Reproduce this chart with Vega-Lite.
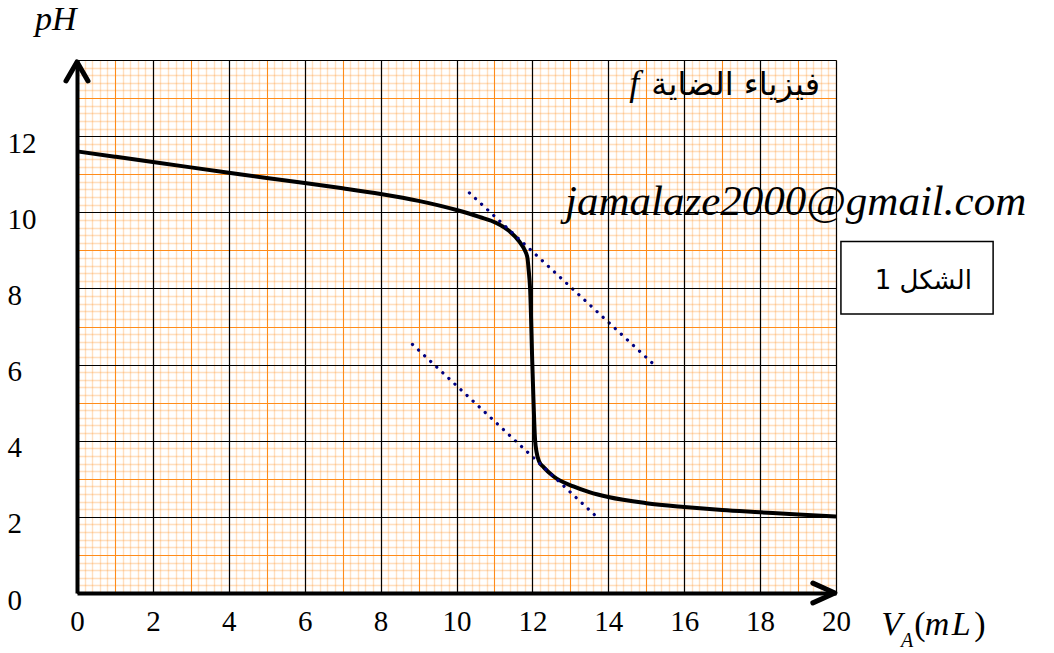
{
  "$schema": "https://vega.github.io/schema/vega-lite/v6.json",
  "width": 759,
  "height": 533,
  "autosize": {"type": "none"},
  "padding": {"left": 77, "top": 60, "right": 218, "bottom": 60},
  "background": "white",
  "config": {"view": {"stroke": null}},
  "datasets": {
    "curve": [
      {"v": 0, "ph": 11.6}, {"v": 1, "ph": 11.46}, {"v": 2, "ph": 11.32}, {"v": 3, "ph": 11.18},
      {"v": 4, "ph": 11.04}, {"v": 5, "ph": 10.9}, {"v": 6, "ph": 10.77}, {"v": 7, "ph": 10.63},
      {"v": 8, "ph": 10.48}, {"v": 9, "ph": 10.3}, {"v": 10, "ph": 10.06}, {"v": 10.6, "ph": 9.88},
      {"v": 11.05, "ph": 9.72}, {"v": 11.4, "ph": 9.5}, {"v": 11.65, "ph": 9.24}, {"v": 11.8, "ph": 9.0},
      {"v": 11.87, "ph": 8.8}, {"v": 11.9, "ph": 8.5}, {"v": 11.94, "ph": 7.98}, {"v": 12.0, "ph": 5.96},
      {"v": 12.07, "ph": 4.03}, {"v": 12.11, "ph": 3.7}, {"v": 12.18, "ph": 3.45}, {"v": 12.3, "ph": 3.3},
      {"v": 12.56, "ph": 3.06}, {"v": 13.08, "ph": 2.8}, {"v": 13.5, "ph": 2.65}, {"v": 14, "ph": 2.52},
      {"v": 15, "ph": 2.36}, {"v": 16, "ph": 2.26}, {"v": 17, "ph": 2.18}, {"v": 18, "ph": 2.12},
      {"v": 19, "ph": 2.06}, {"v": 20, "ph": 2.01}
    ],
    "tangents": [
      {"seg": "upper", "v": 10.34, "ph": 10.51}, {"seg": "upper", "v": 15.16, "ph": 6.04},
      {"seg": "lower", "v": 8.84, "ph": 6.53}, {"seg": "lower", "v": 13.63, "ph": 2.06}
    ]
  },
  "layer": [
    {
      "data": {"name": "curve"},
      "mark": {"type": "line", "interpolate": "monotone", "stroke": "black", "strokeWidth": 4},
      "encoding": {
        "x": {"field": "v", "type": "quantitative", "scale": {"domain": [0, 20], "nice": false, "zero": false},
          "axis": {"orient": "bottom", "tickCount": 100, "grid": true, "gridColor": "#ff8c1a",
            "gridOpacity": {"condition": {"test": "datum.value % 1 === 0", "value": 1}, "value": 0.28},
            "gridWidth": {"condition": {"test": "datum.value % 1 === 0", "value": 1.1}, "value": 1.4},
            "labels": false, "ticks": false, "domain": false, "title": null, "zindex": 0}},
        "y": {"field": "ph", "type": "quantitative", "scale": {"domain": [0, 14], "nice": false, "zero": false},
          "axis": {"orient": "left", "tickCount": 70, "grid": true, "gridColor": "#ff8c1a",
            "gridOpacity": {"condition": {"test": "datum.value % 1 === 0", "value": 1}, "value": 0.28},
            "gridWidth": {"condition": {"test": "datum.value % 1 === 0", "value": 1.1}, "value": 1.4},
            "labels": false, "ticks": false, "domain": false, "title": null, "zindex": 0}}
      }
    },
    {
      "data": {"name": "tangents"},
      "mark": {"type": "line", "stroke": "#000080", "strokeWidth": 3.2, "strokeCap": "round", "strokeDash": [0.1, 8.2]},
      "encoding": {
        "detail": {"field": "seg"},
        "x": {"field": "v", "type": "quantitative", "scale": {"domain": [0, 20], "nice": false, "zero": false},
          "axis": {"orient": "bottom", "values": [0, 2, 4, 6, 8, 10, 12, 14, 16, 18, 20], "grid": true, "gridColor": "black", "gridWidth": 1.2,
            "domain": true, "domainColor": "black", "domainWidth": 4, "ticks": false, "tickSize": 0,
            "labelFont": "Liberation Serif", "labelFontSize": 29, "labelColor": "black", "labelBaseline": "alphabetic",
            "labelPadding": 37, "labelFlush": false, "labelOverlap": false, "title": null, "zindex": 1}},
        "y": {"field": "ph", "type": "quantitative", "scale": {"domain": [0, 14], "nice": false, "zero": false},
          "axis": {"orient": "left", "values": [0, 2, 4, 6, 8, 10, 12, 14], "labelExpr": "datum.value == 14 ? '' : datum.label",
            "grid": true, "gridColor": "black", "gridWidth": 1.2,
            "domain": true, "domainColor": "black", "domainWidth": 4, "ticks": false, "tickSize": 0,
            "labelFont": "Liberation Serif", "labelFontSize": 29, "labelColor": "black", "labelAlign": "left", "labelBaseline": "alphabetic",
            "labelPadding": 70, "labelOffset": 16, "labelFlush": false, "labelOverlap": false, "title": null, "zindex": 1}}
      }
    },
    {
      "data": {"values": [{"v": 0, "ph": 13.95}]},
      "mark": {"type": "point", "shape": "M-0.55,0.95L0,0L0.55,0.95", "size": 1600, "filled": false, "stroke": "black", "strokeWidth": 5, "strokeJoin": "round", "strokeCap": "round", "opacity": 1},
      "encoding": {
        "x": {"field": "v", "type": "quantitative", "scale": {"domain": [0, 20], "nice": false, "zero": false}, "axis": null},
        "y": {"field": "ph", "type": "quantitative", "scale": {"domain": [0, 14], "nice": false, "zero": false}, "axis": null}
      }
    },
    {
      "data": {"values": [{"v": 19.97, "ph": 0}]},
      "mark": {"type": "point", "shape": "M-1,-0.45L0,0L-1,0.45", "size": 1936, "filled": false, "stroke": "black", "strokeWidth": 5, "strokeJoin": "round", "strokeCap": "round", "opacity": 1},
      "encoding": {
        "x": {"field": "v", "type": "quantitative", "scale": {"domain": [0, 20], "nice": false, "zero": false}, "axis": null},
        "y": {"field": "ph", "type": "quantitative", "scale": {"domain": [0, 14], "nice": false, "zero": false}, "axis": null}
      }
    },
    {
      "data": {"values": [{"x1": 20.13, "x2": 24.14, "y1": 9.23, "y2": 7.33}]},
      "mark": {"type": "rect", "fill": "white", "stroke": "black", "strokeWidth": 1.5},
      "encoding": {
        "x": {"field": "x1", "type": "quantitative", "scale": {"domain": [0, 20], "nice": false, "zero": false}, "axis": null},
        "x2": {"field": "x2"},
        "y": {"field": "y1", "type": "quantitative", "scale": {"domain": [0, 14], "nice": false, "zero": false}, "axis": null},
        "y2": {"field": "y2"}
      }
    },
    {
      "data": {"values": [{"x": 22.3, "y": 7.98, "t": "1 الشكل"}]},
      "mark": {"type": "text", "font": "DejaVu Sans", "fontSize": 26, "align": "center", "baseline": "alphabetic", "color": "black"},
      "encoding": {
        "x": {"field": "x", "type": "quantitative", "scale": {"domain": [0, 20], "nice": false, "zero": false}, "axis": null},
        "y": {"field": "y", "type": "quantitative", "scale": {"domain": [0, 14], "nice": false, "zero": false}, "axis": null},
        "text": {"field": "t"}
      }
    },
    {
      "data": {"values": [{"x": 19.58, "y": 13.08, "t": "فيزياء الضاية"}]},
      "mark": {"type": "text", "font": "DejaVu Sans", "fontSize": 32, "align": "right", "baseline": "alphabetic", "color": "black"},
      "encoding": {
        "x": {"field": "x", "type": "quantitative", "scale": {"domain": [0, 20], "nice": false, "zero": false}, "axis": null},
        "y": {"field": "y", "type": "quantitative", "scale": {"domain": [0, 14], "nice": false, "zero": false}, "axis": null},
        "text": {"field": "t"}
      }
    },
    {
      "data": {"values": [{"x": 14.55, "y": 13.08, "t": "f"}]},
      "mark": {"type": "text", "font": "Liberation Serif", "fontStyle": "italic", "fontSize": 36, "align": "left", "baseline": "alphabetic", "color": "black"},
      "encoding": {
        "x": {"field": "x", "type": "quantitative", "scale": {"domain": [0, 20], "nice": false, "zero": false}, "axis": null},
        "y": {"field": "y", "type": "quantitative", "scale": {"domain": [0, 14], "nice": false, "zero": false}, "axis": null},
        "text": {"field": "t"}
      }
    },
    {
      "data": {"values": [{"x": 12.86, "y": 9.92, "t": "jamalaze2000@gmail.com"}]},
      "mark": {"type": "text", "font": "Liberation Serif", "fontStyle": "italic", "fontSize": 43, "align": "left", "baseline": "alphabetic", "color": "black"},
      "encoding": {
        "x": {"field": "x", "type": "quantitative", "scale": {"domain": [0, 20], "nice": false, "zero": false}, "axis": null},
        "y": {"field": "y", "type": "quantitative", "scale": {"domain": [0, 14], "nice": false, "zero": false}, "axis": null},
        "text": {"field": "t"}
      }
    },
    {
      "data": {"values": [
        {"x": -1.107, "y": 14.79, "t": "pH"},
        {"x": 21.19, "y": -1.107, "t": "V"},
        {"x": 22.34, "y": -1.107, "t": "m"},
        {"x": 23.05, "y": -1.107, "t": "L"}
      ]},
      "mark": {"type": "text", "font": "Liberation Serif", "fontStyle": "italic", "fontSize": 34, "align": "left", "baseline": "alphabetic", "color": "black"},
      "encoding": {
        "x": {"field": "x", "type": "quantitative", "scale": {"domain": [0, 20], "nice": false, "zero": false}, "axis": null},
        "y": {"field": "y", "type": "quantitative", "scale": {"domain": [0, 14], "nice": false, "zero": false}, "axis": null},
        "text": {"field": "t"}
      }
    },
    {
      "data": {"values": [
        {"x": 22.06, "y": -1.107, "t": "("},
        {"x": 23.64, "y": -1.107, "t": ")"}
      ]},
      "mark": {"type": "text", "font": "Liberation Serif", "fontSize": 34, "align": "left", "baseline": "alphabetic", "color": "black"},
      "encoding": {
        "x": {"field": "x", "type": "quantitative", "scale": {"domain": [0, 20], "nice": false, "zero": false}, "axis": null},
        "y": {"field": "y", "type": "quantitative", "scale": {"domain": [0, 14], "nice": false, "zero": false}, "axis": null},
        "text": {"field": "t"}
      }
    },
    {
      "data": {"values": [{"x": 21.71, "y": -1.42, "t": "A"}]},
      "mark": {"type": "text", "font": "Liberation Serif", "fontStyle": "italic", "fontSize": 20, "align": "left", "baseline": "alphabetic", "color": "black"},
      "encoding": {
        "x": {"field": "x", "type": "quantitative", "scale": {"domain": [0, 20], "nice": false, "zero": false}, "axis": null},
        "y": {"field": "y", "type": "quantitative", "scale": {"domain": [0, 14], "nice": false, "zero": false}, "axis": null},
        "text": {"field": "t"}
      }
    }
  ],
  "resolve": {"axis": {"x": "independent", "y": "independent"}}
}
